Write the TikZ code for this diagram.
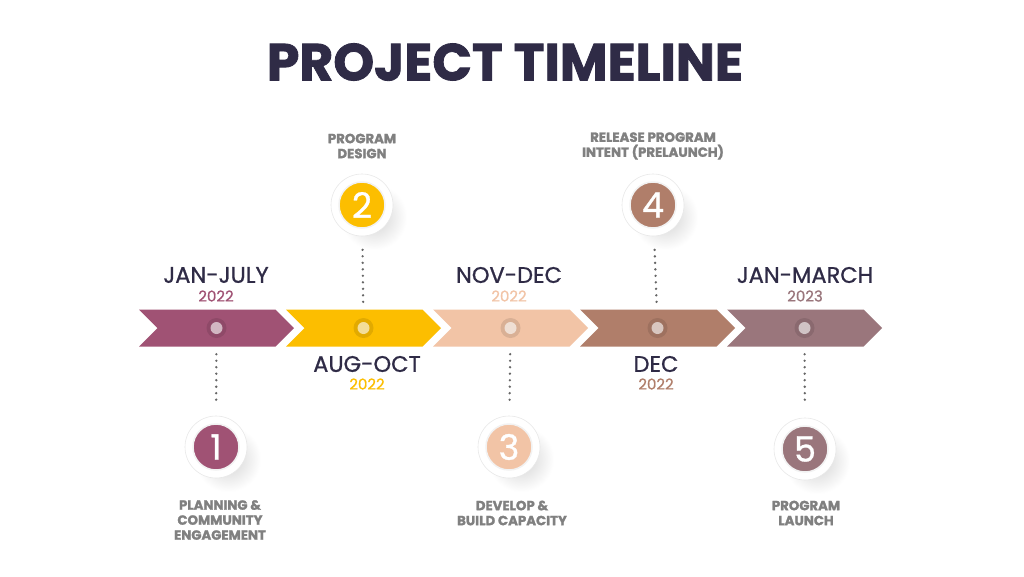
\documentclass[tikz,border=0pt]{standalone}
\usepackage{fontspec}
\setmainfont{Poppins}
\newfontfamily\medfont{Poppins}[FakeBold=0.9]
\newfontfamily\heavyfont{Poppins}[BoldFeatures={FakeBold=1.6}]
\usetikzlibrary{shapes.symbols}

\definecolor{cone}{HTML}{A05274}
\definecolor{ctwo}{HTML}{FCBE00}
\definecolor{cthree}{HTML}{F2C4A6}
\definecolor{cfour}{HTML}{B07E6A}
\definecolor{cfive}{HTML}{9A767C}
\definecolor{navy}{HTML}{2F2B46}
\definecolor{taskgray}{HTML}{808080}

\begin{document}
\begin{tikzpicture}[x=1pt, y=-1pt]
        \tikzstyle{chev}=[shape=signal, signal to=east, signal from=west, minimum width=155pt, minimum height=37pt, inner sep=0pt, outer sep=0pt]
        \tikzstyle{ring}=[shape=circle, minimum size=20pt, inner sep=0pt, fill=black, fill opacity=0.1]
        \tikzstyle{badge}=[shape=circle, minimum size=62pt, inner sep=0pt, fill=white, draw=black!9, line width=0.6pt]
        \tikzstyle{num}=[shape=circle, minimum size=46pt, inner sep=0pt, draw=black!5, line width=1.5pt, text=white, font=\medfont\fontsize{35}{35}\selectfont]
        \tikzstyle{when}=[text=navy, font=\medfont\fontsize{22.5}{22.5}\selectfont]
        \tikzstyle{year}=[font=\medfont\fontsize{15}{15}\selectfont]
        \tikzstyle{task}=[text=taskgray, align=center, font=\heavyfont\bfseries\fontsize{13.3}{15}\selectfont]
        \tikzstyle{dots}=[draw=black!60, line width=2.6pt, line cap=round, dash pattern=on 0pt off 6.5pt, shorten <=16pt, shorten >=13pt]

        \fill[white] (0,0) rectangle (1024,576);
        \useasboundingbox (0,0) rectangle (1024,576);

        \node[text=navy, font=\heavyfont\bfseries\fontsize{52}{52}\selectfont](title) at (505,62){PROJECT TIMELINE};

        % arrow strip
        \node[chev, fill=cone](c1) at (216.5,328){};
        \node[chev, fill=ctwo](c2) at (363.5,328){};
        \node[chev, fill=cthree](c3) at (510.5,328){};
        \node[chev, fill=cfour](c4) at (657.5,328){};
        \node[chev, fill=cfive](c5) at (804.5,328){};

        \foreach \i in {1,...,5}{
            \node[ring](d\i) at (c\i){};
            \fill[white, opacity=0.6] (d\i) circle (6);
        }

        % dates
        \node[when](w1) at (216,275){JAN-JULY};
        \node[year, text=cone](y1) at (216,296){2022};
        \node[when](w2) at (367,364){AUG-OCT};
        \node[year, text=ctwo](y2) at (367,384){2022};
        \node[when](w3) at (509,275){NOV-DEC};
        \node[year, text=cthree](y3) at (509,296){2022};
        \node[when](w4) at (656,364){DEC};
        \node[year, text=cfour](y4) at (656,384){2022};
        \node[when](w5) at (805,275){JAN-MARCH};
        \node[year, text=cfive](y5) at (805,296){2023};

        % badge shadows
        \foreach \x/\y in {216/447, 362/205, 509/447, 653/205, 805/449}{
            \shade[inner color=black!18, outer color=white] (\x+12,\y+12) circle (33);
        }

        \node[badge](b1) at (216,447){};
        \node[badge](b2) at (362,205){};
        \node[badge](b3) at (509,447){};
        \node[badge](b4) at (653,205){};
        \node[badge](b5) at (805,449){};

        \node[num, fill=cone](n1) at (b1){1};
        \node[num, fill=ctwo](n2) at (b2){2};
        \node[num, fill=cthree](n3) at (b3){3};
        \node[num, fill=cfour](n4) at (b4){4};
        \node[num, fill=cfive](n5) at (b5){5};

        \draw[dots] (d1) -- (b1);
        \draw[dots] (d2) -- (b2);
        \draw[dots] (d3) -- (b3);
        \draw[dots] (d4) -- (b4);
        \draw[dots] (d5) -- (b5);

        % tasks
        \node[task](t1) at (220,520){PLANNING \&\\COMMUNITY\\ENGAGEMENT};
        \node[task](t2) at (362,146){PROGRAM\\DESIGN};
        \node[task](t3) at (512,513){DEVELOP \&\\BUILD CAPACITY};
        \node[task](t4) at (653,146){RELEASE PROGRAM\\INTENT (PRELAUNCH)};
        \node[task](t5) at (806,513){PROGRAM\\LAUNCH};

\end{tikzpicture}
\end{document}
